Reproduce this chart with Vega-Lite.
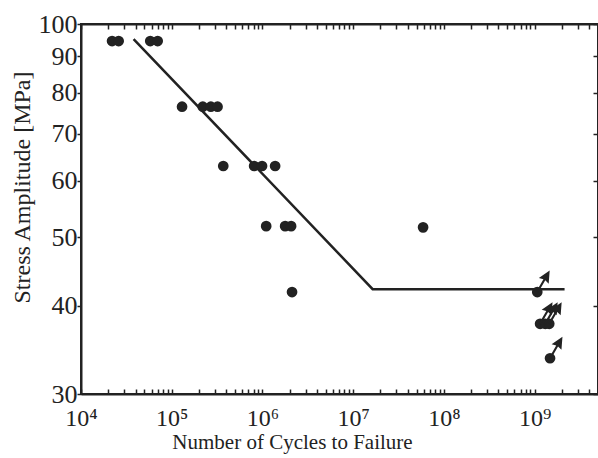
{
  "$schema": "https://vega.github.io/schema/vega-lite/v6.json",
  "width": 517,
  "height": 370,
  "autosize": {"type": "none"},
  "padding": {"left": 81, "top": 24, "right": 0, "bottom": 64},
  "background": "white",
  "config": {
    "view": {"stroke": "#222222", "strokeWidth": 2},
    "font": "Liberation Serif",
    "axis": {"grid": false, "domainColor": "#222222", "domainWidth": 2, "tickColor": "#222222", "tickWidth": 1.5, "labelColor": "#222222", "titleColor": "#222222", "labelFont": "Liberation Serif", "titleFont": "Liberation Serif", "titleFontWeight": "normal", "labelOverlap": false, "labelBound": false, "labelFlush": false}
  },
  "datasets": {
    "pts": [
      {"n": 22000, "s": 94.6, "runout": false},
      {"n": 26000, "s": 94.6, "runout": false},
      {"n": 58000, "s": 94.6, "runout": false},
      {"n": 70000, "s": 94.6, "runout": false},
      {"n": 130000, "s": 76.4, "runout": false},
      {"n": 220000, "s": 76.4, "runout": false},
      {"n": 270000, "s": 76.4, "runout": false},
      {"n": 320000, "s": 76.4, "runout": false},
      {"n": 370000, "s": 63.0, "runout": false},
      {"n": 810000, "s": 63.0, "runout": false},
      {"n": 990000, "s": 63.0, "runout": false},
      {"n": 1380000, "s": 63.0, "runout": false},
      {"n": 1100000, "s": 51.8, "runout": false},
      {"n": 1780000, "s": 51.8, "runout": false},
      {"n": 2070000, "s": 51.8, "runout": false},
      {"n": 2120000, "s": 41.8, "runout": false},
      {"n": 59000000, "s": 51.6, "runout": false},
      {"n": 1070000000, "s": 41.8, "runout": true},
      {"n": 1150000000, "s": 37.7, "runout": true},
      {"n": 1310000000, "s": 37.7, "runout": true},
      {"n": 1450000000, "s": 37.7, "runout": true},
      {"n": 1480000000, "s": 33.7, "runout": true}
    ],
    "fit": [
      {"seq": 1, "n": 38000, "s": 95.2},
      {"seq": 2, "n": 16400000, "s": 42.2},
      {"seq": 3, "n": 2140000000, "s": 42.2}
    ]
  },
  "layer": [
    {
      "data": {"name": "fit"},
      "mark": {"type": "line", "color": "#222222", "strokeWidth": 2.5},
      "encoding": {
        "x": {"field": "n", "type": "quantitative", "scale": {"type": "log", "domain": [10000, 5000000000], "nice": false},
          "axis": {"orient": "bottom", "title": "Number of Cycles to Failure", "titleFontSize": 21, "titleX": 211, "titleY": 54, "titleBaseline": "alphabetic", "titleAlign": "center", "titleAnchor": null,
            "values": [10000,20000,30000,40000,50000,60000,70000,80000,90000,100000,200000,300000,400000,500000,600000,700000,800000,900000,1000000,2000000,3000000,4000000,5000000,6000000,7000000,8000000,9000000,10000000,20000000,30000000,40000000,50000000,60000000,70000000,80000000,90000000,100000000,200000000,300000000,400000000,500000000,600000000,700000000,800000000,900000000,1000000000,2000000000,3000000000,4000000000],
            "labelExpr": "datum.value == 10000 ? '10⁴' : datum.value == 100000 ? '10⁵' : datum.value == 1000000 ? '10⁶' : datum.value == 10000000 ? '10⁷' : datum.value == 100000000 ? '10⁸' : datum.value == 1000000000 ? '10⁹' : ''",
            "labelFontSize": 24, "tickSize": -5, "labelPadding": 17}},
        "y": {"field": "s", "type": "quantitative", "scale": {"type": "log", "domain": [30, 100], "nice": false},
          "axis": {"orient": "left", "title": "Stress Amplitude [MPa]", "titleFontSize": 24, "titleX": -52, "titleY": 163, "titleBaseline": "alphabetic", "titleAlign": "center", "titleAnchor": null,
            "values": [30, 40, 50, 60, 70, 80, 90, 100], "labelFontSize": 26, "tickSize": 4, "labelPadding": 0}},
        "order": {"field": "seq"}
      }
    },
    {
      "data": {"name": "pts"},
      "mark": {"type": "point", "shape": "circle", "filled": true, "size": 115, "color": "#222222", "opacity": 1},
      "encoding": {
        "x": {"field": "n", "type": "quantitative", "scale": {"type": "log", "domain": [10000, 5000000000], "nice": false},
          "axis": {"orient": "top", "title": null, "labels": false, "tickSize": -5,
            "values": [10000,20000,30000,40000,50000,60000,70000,80000,90000,100000,200000,300000,400000,500000,600000,700000,800000,900000,1000000,2000000,3000000,4000000,5000000,6000000,7000000,8000000,9000000,10000000,20000000,30000000,40000000,50000000,60000000,70000000,80000000,90000000,100000000,200000000,300000000,400000000,500000000,600000000,700000000,800000000,900000000,1000000000,2000000000,3000000000,4000000000]}},
        "y": {"field": "s", "type": "quantitative", "scale": {"type": "log", "domain": [30, 100], "nice": false},
          "axis": {"orient": "right", "title": null, "labels": false, "tickSize": -5, "values": [30, 40, 50, 60, 70, 80, 90, 100]}}
      }
    },
    {
      "data": {"name": "pts"},
      "transform": [{"filter": "datum.runout"}],
      "mark": {"type": "point", "shape": "M-0.09,0 L-0.09,-1.2 L-0.48,-1.1 L0,-2.1 L0.48,-1.1 L0.09,-1.2 L0.09,0 Z", "filled": true, "size": 560, "angle": 30, "color": "#222222", "opacity": 1},
      "encoding": {
        "x": {"field": "n", "type": "quantitative", "scale": {"type": "log", "domain": [10000, 5000000000], "nice": false}, "axis": null},
        "y": {"field": "s", "type": "quantitative", "scale": {"type": "log", "domain": [30, 100], "nice": false}, "axis": null}
      }
    }
  ],
  "resolve": {"axis": {"x": "independent", "y": "independent"}}
}
